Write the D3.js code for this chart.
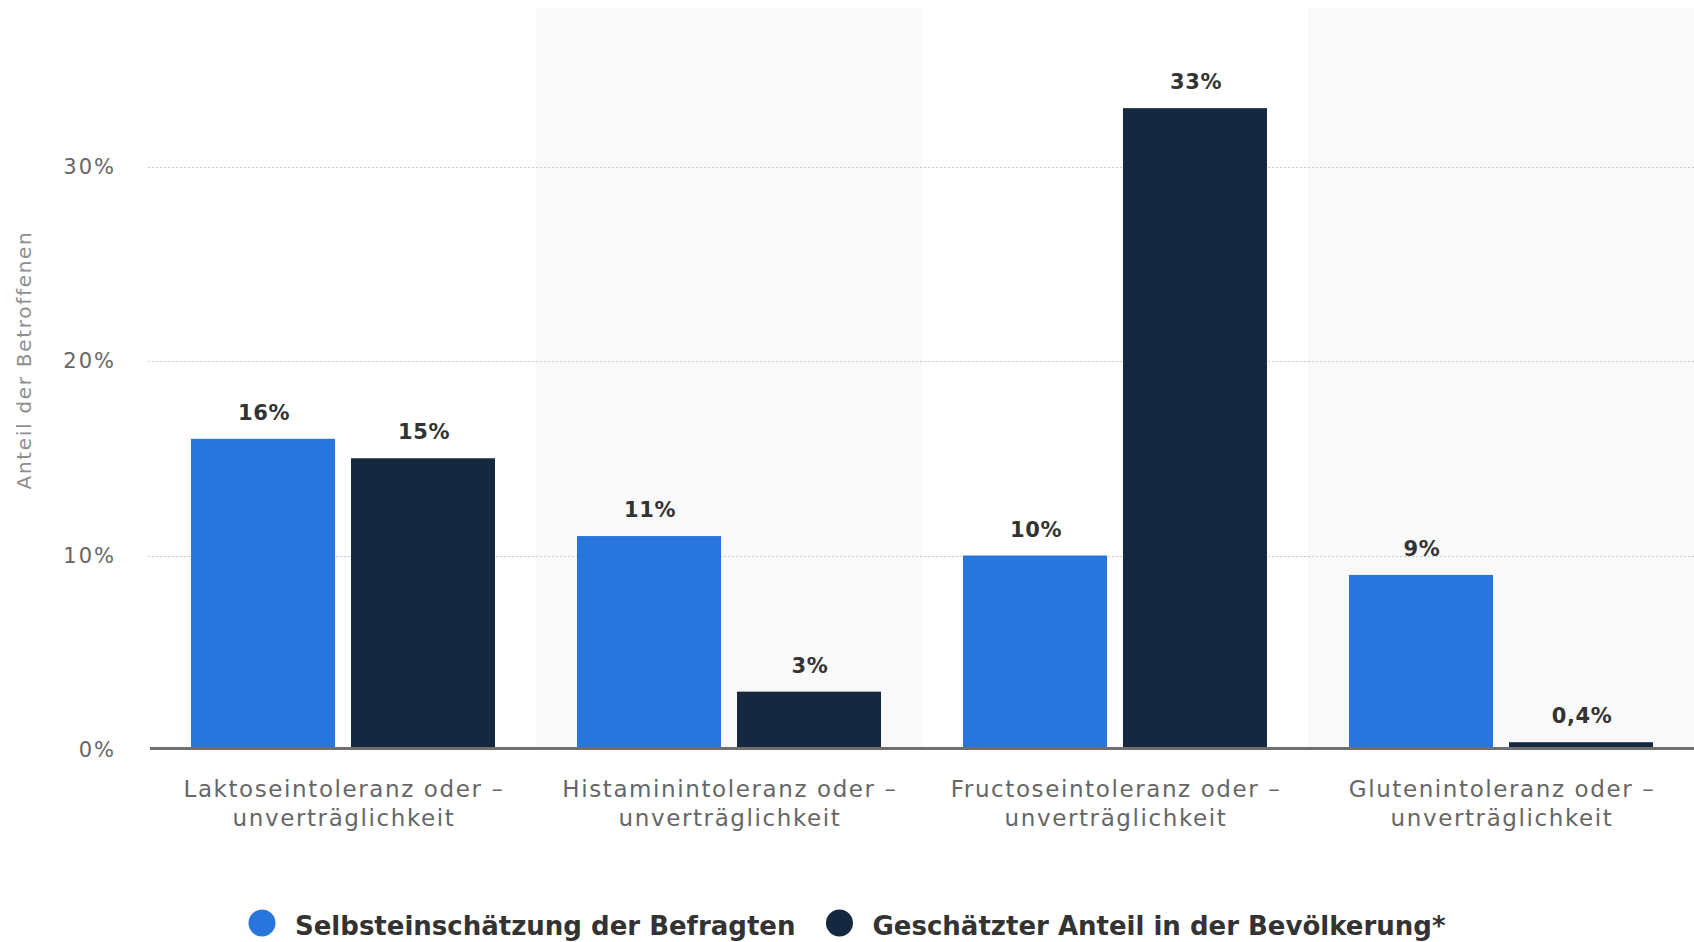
<!DOCTYPE html>
<html lang="de">
<head>
<meta charset="utf-8">
<script src="https://cdn.jsdelivr.net/npm/d3@7"></script>
<style>
  html, body { margin: 0; padding: 0; background: #ffffff; }
  svg { display: block; }
</style>
</head>
<body>
<svg id="chart" width="1694" height="942"></svg>
<script>
// Intoleranzen: Selbsteinschätzung vs. geschätzter Anteil in der Bevölkerung
const categories = [
  "Laktoseintoleranz oder –\nunverträglichkeit",
  "Histaminintoleranz oder –\nunverträglichkeit",
  "Fructoseintoleranz oder –\nunverträglichkeit",
  "Glutenintoleranz oder –\nunverträglichkeit"
];
const seriesNames = ["Selbsteinschätzung der Befragten", "Geschätzter Anteil in der Bevölkerung*"];
const selbsteinschaetzung = [16, 11, 10, 9];
const geschaetzterAnteil = [15, 3, 33, 0.4];
const yTicks = [0, 10, 20, 30];
const yTitle = "Anteil der Betroffenen";

const colors = ["#2876dd", "#142840"];

const W = 1694, H = 942;
const plot = { left: 150, right: 1694, top: 8, baseline: 750 };

const de = d3.formatLocale({ decimal: ",", thousands: ".", grouping: [3], currency: ["", " €"] });
const fmt = v => (Number.isInteger(v) ? de.format("d")(v) : de.format(".1f")(v)) + "%";

const svg = d3.select("#chart");

const x0 = d3.scaleBand().domain(categories).range([plot.left, plot.right]).paddingInner(0).paddingOuter(0);
const inner = x0.bandwidth();
const x1 = d3.scaleBand().domain([0, 1]).range([41, inner - 41]).paddingInner(0.1).paddingOuter(0);
const y = d3.scaleLinear().domain([0, 30]).range([plot.baseline, 166.5]);

// alternating background bands
svg.append("g").selectAll("rect")
  .data(categories.filter((d, i) => i % 2 === 1))
  .join("rect")
  .attr("x", d => x0(d))
  .attr("y", plot.top)
  .attr("width", inner)
  .attr("height", plot.baseline - plot.top)
  .attr("fill", "#f9f9f9");

// dotted gridlines
svg.append("g").selectAll("line")
  .data(yTicks.filter(t => t > 0))
  .join("line")
  .attr("x1", plot.left - 2).attr("x2", plot.right)
  .attr("y1", d => Math.round(y(d)) + 0.5).attr("y2", d => Math.round(y(d)) + 0.5)
  .attr("stroke", "#c9c9c9")
  .attr("stroke-width", 1)
  .attr("stroke-dasharray", "2,2");

// y axis labels
const yAxis = svg.append("g")
  .attr("transform", `translate(${plot.left},0)`)
  .call(d3.axisLeft(y).tickValues(yTicks).tickFormat(d => d + "%").tickSize(0).tickPadding(34));
yAxis.select(".domain").remove();
yAxis.selectAll("text")
  .attr("font-family", "DejaVu Sans")
  .attr("font-size", 21)
  .attr("letter-spacing", "2px")
  .attr("fill", "#666666");

// y axis title
svg.append("text")
  .attr("transform", "translate(31,360) rotate(-90)")
  .attr("text-anchor", "middle")
  .attr("font-family", "DejaVu Sans")
  .attr("font-size", 20)
  .attr("letter-spacing", "1.7px")
  .attr("fill", "#8f8f8f")
  .text(yTitle);

// bars
const data = categories.map((c, i) => ({ cat: c, values: [selbsteinschaetzung[i], geschaetzterAnteil[i]] }));
const groups = svg.append("g").selectAll("g")
  .data(data)
  .join("g")
  .attr("transform", d => `translate(${x0(d.cat)},0)`);

groups.selectAll("rect")
  .data(d => d.values.map((v, s) => ({ v, s })))
  .join("rect")
  .attr("x", d => x1(d.s))
  .attr("y", d => y(d.v))
  .attr("width", x1.bandwidth())
  .attr("height", d => y(0) - y(d.v))
  .attr("fill", d => colors[d.s]);

// value labels
groups.selectAll("text")
  .data(d => d.values.map((v, s) => ({ v, s })))
  .join("text")
  .attr("x", d => x1(d.s) + x1.bandwidth() / 2 + 1)
  .attr("y", d => y(d.v) - 19)
  .attr("text-anchor", "middle")
  .attr("font-family", "DejaVu Sans")
  .attr("font-weight", "bold")
  .attr("font-size", 21)
  .attr("letter-spacing", "0.6px")
  .attr("fill", "#333333")
  .text(d => fmt(d.v));

// baseline
svg.append("line")
  .attr("x1", plot.left).attr("x2", plot.right)
  .attr("y1", y(0) - 1.5).attr("y2", y(0) - 1.5)
  .attr("stroke", "#6f6f6f")
  .attr("stroke-width", 3);

// category labels
const catLabels = svg.append("g").selectAll("text")
  .data(categories)
  .join("text")
  .attr("x", d => x0(d) + inner / 2 + 1)
  .attr("y", 797)
  .attr("text-anchor", "middle")
  .attr("font-family", "DejaVu Sans")
  .attr("font-size", 23)
  .attr("letter-spacing", "1.6px")
  .attr("fill", "#666666");
catLabels.selectAll("tspan")
  .data(d => d.split("\n"))
  .join("tspan")
  .attr("x", function () { return this.parentNode.getAttribute("x"); })
  .attr("dy", (d, i) => i === 0 ? 0 : 29)
  .text(d => d);

// legend
const legend = svg.append("g");
const items = legend.selectAll("g")
  .data(seriesNames)
  .join("g");
items.append("circle")
  .attr("r", 13.5)
  .attr("cy", 923)
  .attr("fill", (d, i) => colors[i]);
items.append("text")
  .attr("y", 935)
  .attr("font-family", "DejaVu Sans")
  .attr("font-weight", "bold")
  .attr("font-size", 26)
  .attr("fill", "#333333")
  .text(d => d);

const textOffset = 33, itemGap = 44, r = 13.5;
const widths = [];
items.each(function () { widths.push(d3.select(this).select("text").node().getComputedTextLength()); });
const total = widths.reduce((a, w) => a + r + textOffset + w, 0) + itemGap * (widths.length - 1) - r;
let cursor = W / 2 - total / 2 + r;
items.each(function (d, i) {
  const g = d3.select(this);
  g.select("circle").attr("cx", cursor);
  g.select("text").attr("x", cursor + textOffset);
  cursor += textOffset + widths[i] + itemGap;
});
</script>
</body>
</html>
